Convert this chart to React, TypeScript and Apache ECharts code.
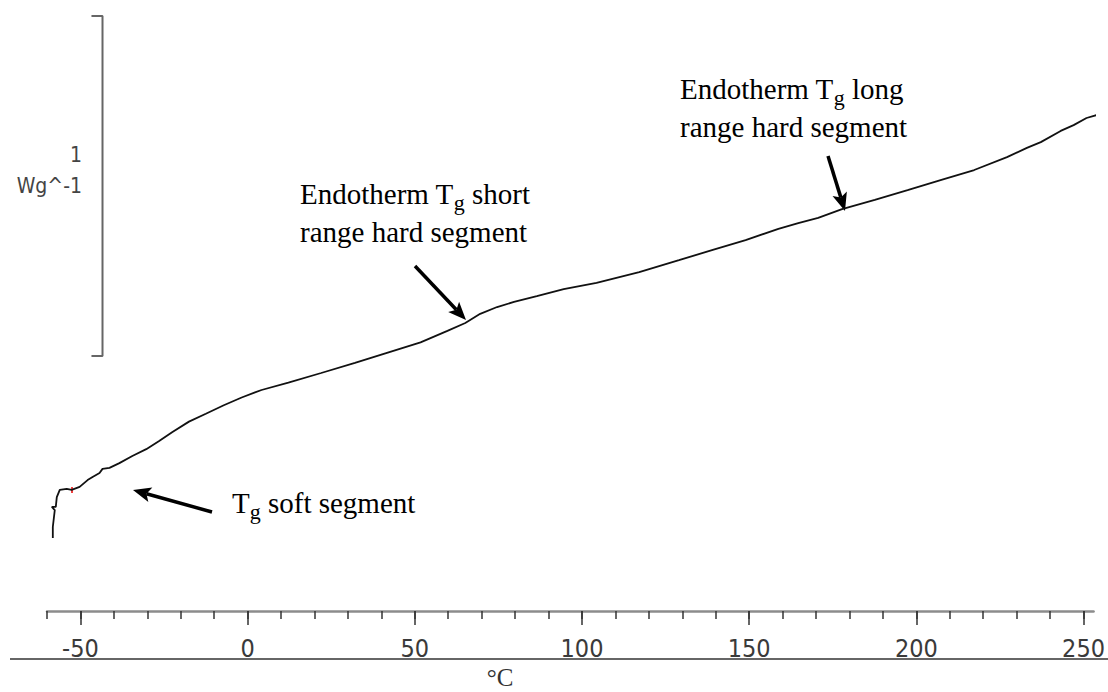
import React, { useEffect, useRef } from 'react';
import * as echarts from 'echarts';

// Temperature (°C)
const TEMPERATURE = [
  -58.26, -58.26, -57.67, -58.56, -57.37, -57.07, -56.18, -54.10, -52.62, -50.24,
  -47.86, -46.37, -44.29, -43.40, -41.32, -38.35, -34.48, -30.32, -26.46, -22.59,
  -17.54, -12.49, -7.13, -1.78, 4.16, 12.19, 22.0, 32.1, 41.91, 51.72,
  59.75, 65.10, 69.56, 74.61, 79.67, 86.50, 94.53, 104.34, 117.12, 129.01,
  139.12, 148.93, 158.74, 164.68, 170.63, 177.77, 187.57, 197.38, 207.49, 217.30,
  227.11, 233.06, 237.22, 243.16, 247.03, 250.89, 255.05,
];
// Heat flow (W/g, arbitrary offset)
const HEAT_FLOW = [
  0.465, 0.497, 0.547, 0.556, 0.556, 0.585, 0.606, 0.609, 0.606, 0.615,
  0.635, 0.644, 0.656, 0.668, 0.671, 0.685, 0.706, 0.726, 0.750, 0.776,
  0.807, 0.830, 0.855, 0.878, 0.900, 0.922, 0.950, 0.980, 1.010, 1.040,
  1.074, 1.097, 1.124, 1.144, 1.159, 1.176, 1.197, 1.215, 1.247, 1.282,
  1.312, 1.341, 1.374, 1.391, 1.406, 1.432, 1.459, 1.488, 1.518, 1.547,
  1.585, 1.612, 1.629, 1.662, 1.679, 1.700, 1.712,
];
// Scale bar: 1 W/g
const SCALE_BAR_X = [-46.7, -43.4, -43.4, -46.7];
const SCALE_BAR_Y = [2.0, 2.0, 1.0, 1.0];

const MAJOR_TICKS = [-50, 0, 50, 100, 150, 200, 250];
const X_MIN = -60;
const X_MAX = 253;
const X_STEP = 10;
const Y_MIN = 0.25;
const Y_MAX = 2.0;

const MINOR_TICKS: number[] = [];
for (let v = X_MIN; v <= 250; v += X_STEP) MINOR_TICKS.push(v);

function arrow(tail: number[], tip: number[], head = 18, half = 7.5) {
  const dx = tip[0] - tail[0];
  const dy = tip[1] - tail[1];
  const L = Math.hypot(dx, dy);
  const ux = dx / L, uy = dy / L;
  const nx = -uy, ny = ux;
  const bx = tip[0] - head * ux, by = tip[1] - head * uy;
  return [
    {
      type: 'line',
      shape: { x1: tail[0], y1: tail[1], x2: bx + 4 * ux, y2: by + 4 * uy },
      style: { stroke: '#000', lineWidth: 3.5 },
    },
    {
      type: 'polygon',
      shape: {
        points: [
          [tip[0], tip[1]],
          [bx + half * nx, by + half * ny],
          [bx + 4 * ux, by + 4 * uy],
          [bx - half * nx, by - half * ny],
        ],
      },
      style: { fill: '#000' },
    },
  ];
}

const SERIF = '"Liberation Serif", "Times New Roman", serif';
const NARROW = '"DejaVu Sans Condensed", "Liberation Sans Narrow", sans-serif';

const rich = {
  n: { fontFamily: SERIF, fontSize: 29, lineHeight: 38, color: '#111' },
  s: { fontFamily: SERIF, fontSize: 22, lineHeight: 22, color: '#111', verticalAlign: 'bottom' },
};

export default function App() {
  const ref = useRef<HTMLDivElement>(null);
  useEffect(() => {
    if (!ref.current) return;
    const chart = echarts.init(ref.current, undefined, { renderer: 'svg' });
    chart.setOption({
      animation: false,
      backgroundColor: '#fff',
      grid: { left: 47, right: 8, top: 16, bottom: 81 },
      xAxis: [
        {
          type: 'value',
          position: 'bottom',
          min: X_MIN,
          max: X_MAX,
          interval: X_STEP,
          axisLine: { show: true, lineStyle: { color: '#8c8c8c', width: 2.5 } },
          axisTick: { show: true, length: 8, customValues: MINOR_TICKS, lineStyle: { color: '#333', width: 1.5 } },
          axisLabel: {
            show: true,
            customValues: MAJOR_TICKS,
            formatter: (v: number) => (MAJOR_TICKS.includes(v) ? String(v) : ''),
            margin: 25,
            fontSize: 25,
            lineHeight: 25,
            fontFamily: NARROW,
            color: '#3a3a3a',
          },
          splitLine: { show: false },
        },
        {
          type: 'value',
          position: 'bottom',
          min: X_MIN,
          max: X_MAX,
          interval: X_STEP,
          axisLine: { show: false },
          axisTick: { show: true, length: 14, customValues: MAJOR_TICKS, lineStyle: { color: '#333', width: 1.5 } },
          axisLabel: { show: false },
          splitLine: { show: false },
        },
      ],
      yAxis: {
        type: 'value',
        min: Y_MIN,
        max: Y_MAX,
        show: false,
        splitLine: { show: false },
      },
      series: [
        {
          type: 'line',
          name: 'Heat flow',
          data: TEMPERATURE.map((t, i) => [t, HEAT_FLOW[i]]),
          symbol: 'none',
          clip: false,
          lineStyle: { color: '#111', width: 1.8 },
          silent: true,
        },
        {
          type: 'line',
          name: 'Scale',
          data: SCALE_BAR_X.map((x, i) => [x, SCALE_BAR_Y[i]]),
          symbol: 'none',
          lineStyle: { color: '#666', width: 2 },
          silent: true,
        },
      ],
      graphic: [
        {
          type: 'line',
          shape: { x1: 10, y1: 659, x2: 1108, y2: 659 },
          style: { stroke: '#333', lineWidth: 1.5 },
        },
        {
          type: 'text',
          x: 500,
          y: 665,
          style: { text: '°C', font: `25px ${SERIF}`, lineHeight: 25, fill: '#333', align: 'center', verticalAlign: 'top' },
        },
        {
          type: 'text',
          x: 82,
          y: 155,
          style: { text: '1', fontSize: 21, fontFamily: NARROW, fill: '#444', align: 'right', verticalAlign: 'middle' },
        },
        {
          type: 'text',
          x: 82,
          y: 186,
          style: { text: 'Wg^-1', fontSize: 21, fontFamily: NARROW, fill: '#444', align: 'right', verticalAlign: 'middle' },
        },
        {
          type: 'text',
          x: 300,
          y: 175,
          style: {
            text: '{n|Endotherm T}{s|g}{n| short}\n{n|range hard segment}',
            rich,
            align: 'left',
            verticalAlign: 'top',
          },
        },
        {
          type: 'text',
          x: 680,
          y: 70,
          style: {
            text: '{n|Endotherm T}{s|g}{n| long}\n{n|range hard segment}',
            rich,
            align: 'left',
            verticalAlign: 'top',
          },
        },
        {
          type: 'text',
          x: 232,
          y: 484,
          style: {
            text: '{n|T}{s|g}{n| soft segment}',
            rich,
            align: 'left',
            verticalAlign: 'top',
          },
        },
        ...arrow([212, 512], [133, 490]),
        ...arrow([415, 266], [466, 320]),
        ...arrow([828, 156], [845, 211]),
        {
          type: 'line',
          shape: { x1: 72, y1: 487, x2: 72, y2: 493 },
          style: { stroke: '#e00', lineWidth: 1.5 },
        },
      ],
    });
    return () => chart.dispose();
  }, []);
  return (
    <div
      ref={ref}
      style={{ position: 'fixed', left: 0, top: 0, width: 1108, height: 692 }}
    />
  );
}
